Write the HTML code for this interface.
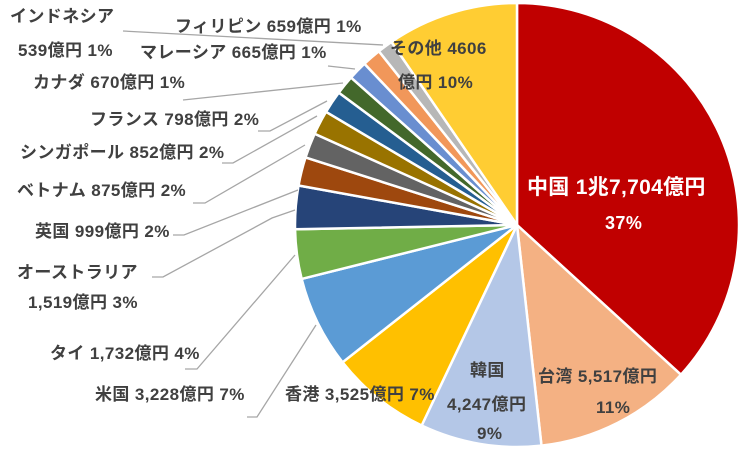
<!DOCTYPE html>
<html><head><meta charset="utf-8">
<style>
html,body{margin:0;padding:0;background:#fff;}
svg{display:block;}
text{font-family:"Liberation Sans","Noto Sans CJK JP",sans-serif;font-weight:bold;font-size:17px;fill:#404040;letter-spacing:0.4px;}
.w{fill:#fff;font-size:21px;letter-spacing:0.3px;}
.ws{fill:#fff;font-size:18px;}
</style></head><body>
<svg id="s" width="750" height="451" viewBox="0 0 750 451" xmlns="http://www.w3.org/2000/svg">
<g id="pie"></g>
<g stroke="#A6A6A6" stroke-width="1.3" fill="none">
<polyline points="123,31 383,45"/>
<polyline points="328,66 355,69"/>
<polyline points="183,100 343,83"/>
<polyline points="258,131 270,131 327,101"/>
<polyline points="222,163 233,163 317,116"/>
<polyline points="193,203 205,203 305,145"/>
<polyline points="173,235 184,235 298,190"/>
<polyline points="152,277 163,277 272,218 295,210"/>
<polyline points="185,369 197,369 295,255"/>
<polyline points="247,417 257,417 316,325"/>
</g>
<text x="10" y="22">インドネシア</text>
<text x="18" y="56">539億円 1%</text>
<text x="175" y="32">フィリピン 659億円 1%</text>
<text x="140" y="58">マレーシア 665億円 1%</text>
<text x="33" y="88">カナダ 670億円 1%</text>
<text x="90" y="125">フランス 798億円 2%</text>
<text x="20" y="158">シンガポール 852億円 2%</text>
<text x="17" y="196">ベトナム 875億円 2%</text>
<text x="35" y="237">英国 999億円 2%</text>
<text x="17" y="278">オーストラリア</text>
<text x="28" y="308">1,519億円 3%</text>
<text x="50" y="359">タイ 1,732億円 4%</text>
<text x="95" y="400">米国 3,228億円 7%</text>
<text x="285" y="400">香港 3,525億円 7%</text>
<text x="390" y="54">その他 4606</text>
<text x="398" y="88">億円 10%</text>
<text class="w" x="527" y="194">中国 1兆7,704億円</text>
<text class="ws" x="605" y="229">37%</text>
<text x="538" y="382">台湾 5,517億円</text>
<text x="596" y="413">11%</text>
<text x="470" y="376">韓国</text>
<text x="447" y="410">4,247億円</text>
<text x="477" y="439">9%</text>
</svg>
<script>
var d=[[17704,"#C00000"],[5517,"#F4B183"],[4247,"#B4C7E7"],[3525,"#FFC000"],[3228,"#5B9BD5"],[1732,"#70AD47"],[1519,"#264478"],[999,"#9E480E"],[875,"#636363"],[852,"#997300"],[798,"#255E91"],[670,"#43682B"],[665,"#698ED0"],[659,"#F1975A"],[539,"#B7B7B7"],[4606,"#FFCD33"]];
var t=0;d.forEach(function(x){t+=x[0];});
var cx=517,cy=225,r=222,a=0,h="";
d.forEach(function(x){
var a2=a+x[0]/t*2*Math.PI;
var x1=cx+r*Math.sin(a),y1=cy-r*Math.cos(a),x2=cx+r*Math.sin(a2),y2=cy-r*Math.cos(a2);
var lg=(a2-a)>Math.PI?1:0;
h+='<path d="M'+cx+','+cy+' L'+x1.toFixed(2)+','+y1.toFixed(2)+' A'+r+','+r+' 0 '+lg+' 1 '+x2.toFixed(2)+','+y2.toFixed(2)+' Z" fill="'+x[1]+'" stroke="#fff" stroke-width="2.5" stroke-linejoin="round"/>';
a=a2;});
document.getElementById("pie").innerHTML=h;
</script>
</body></html>
